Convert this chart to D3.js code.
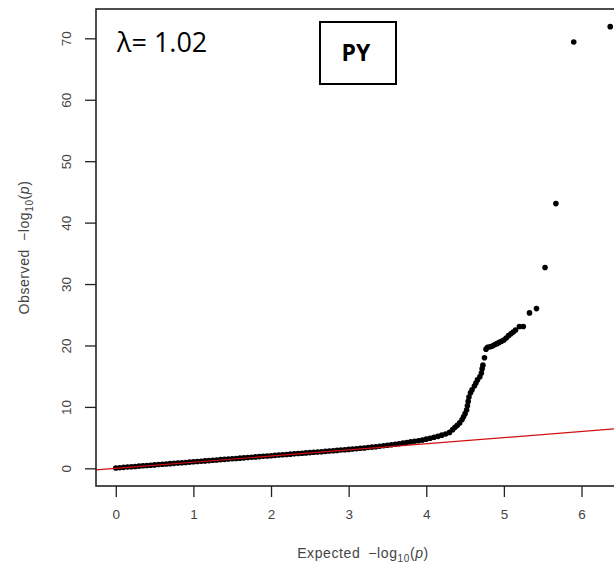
<!DOCTYPE html>
<html>
<head>
<meta charset="utf-8">
<script src="https://cdn.jsdelivr.net/npm/d3@7"></script>
<style>
  body { margin: 0; background: #fff; }
  svg { display: block; }
</style>
</head>
<body>
<svg id="qq" width="614" height="564"></svg>
<script>
// expected -log10(p)
const expected = [
  0.00, 0.05, 0.10, 0.15, 0.20, 0.25, 0.30, 0.35, 0.40, 0.45,
  0.50, 0.55, 0.60, 0.65, 0.70, 0.75, 0.80, 0.85, 0.90, 0.95,
  1.00, 1.05, 1.10, 1.15, 1.20, 1.25, 1.30, 1.35, 1.40, 1.45,
  1.50, 1.55, 1.60, 1.65, 1.70, 1.75, 1.80, 1.85, 1.90, 1.95,
  2.00, 2.05, 2.10, 2.15, 2.20, 2.25, 2.30, 2.35, 2.40, 2.45,
  2.50, 2.55, 2.60, 2.65, 2.70, 2.75, 2.80, 2.85, 2.90, 2.95,
  3.00, 3.05, 3.10, 3.15, 3.20, 3.25, 3.30, 3.35, 3.40, 3.45,
  3.50, 3.55, 3.60, 3.65, 3.70, 3.75, 3.80, 3.85, 3.90, 3.95,
  4.00, 4.05, 4.10, 4.15, 4.20, 4.25, 4.30, 4.34, 4.37, 4.40,
  4.43, 4.46, 4.48, 4.50, 4.52, 4.53, 4.54, 4.55, 4.57, 4.59,
  4.62, 4.64, 4.66, 4.69, 4.71, 4.72, 4.73, 4.75, 4.77, 4.79,
  4.82, 4.85, 4.88, 4.91, 4.94, 4.97, 5.00, 5.03, 5.06, 5.09,
  5.12, 5.15, 5.20, 5.25, 5.33, 5.42, 5.53, 5.67, 5.90, 6.37
];
// observed -log10(p)
const observed = [
  0.05, 0.10, 0.16, 0.21, 0.26, 0.31, 0.36, 0.41, 0.46, 0.51,
  0.56, 0.61, 0.66, 0.71, 0.76, 0.81, 0.86, 0.91, 0.96, 1.01,
  1.06, 1.11, 1.16, 1.21, 1.26, 1.31, 1.36, 1.41, 1.46, 1.51,
  1.56, 1.61, 1.66, 1.71, 1.76, 1.81, 1.86, 1.91, 1.96, 2.01,
  2.06, 2.11, 2.16, 2.21, 2.26, 2.31, 2.36, 2.41, 2.46, 2.51,
  2.56, 2.61, 2.66, 2.71, 2.76, 2.81, 2.86, 2.92, 2.98, 3.03,
  3.08, 3.14, 3.20, 3.26, 3.32, 3.38, 3.45, 3.52, 3.60, 3.67,
  3.75, 3.83, 3.92, 4.00, 4.10, 4.20, 4.30, 4.40, 4.50, 4.60,
  4.75, 4.90, 5.05, 5.20, 5.40, 5.60, 5.85, 6.30, 6.70, 7.00,
  7.40, 7.90, 8.40, 8.90, 9.50, 10.2, 10.9, 11.6, 12.3, 12.8,
  13.4, 13.9, 14.4, 14.9, 15.5, 16.2, 16.8, 18.0, 19.4, 19.7,
  19.8, 19.9, 20.1, 20.3, 20.5, 20.7, 20.9, 21.2, 21.6, 21.9,
  22.2, 22.5, 23.1, 23.1, 25.3, 26.0, 32.7, 43.1, 69.4, 71.9
];
const xTicks = [0, 1, 2, 3, 4, 5, 6];
const yTicks = [0, 10, 20, 30, 40, 50, 60, 70];
const lambdaLabel = "λ= 1.02";
const panelLabel = "PY";

const svg = d3.select("#qq");
const plotL = 96, plotR = 630, plotT = 9, plotB = 486;

// R style 4% padding round the data range
const xMax = d3.max(expected), yMax = d3.max(observed);
const x = d3.scaleLinear()
  .domain([-0.04 * xMax, xMax * 1.04])
  .range([plotL, plotR]);
const y = d3.scaleLinear()
  .domain([-0.04 * yMax, yMax * 1.04])
  .range([plotB, plotT]);

svg.append("defs").append("clipPath").attr("id", "plotClip")
  .append("rect")
  .attr("x", plotL).attr("y", plotT)
  .attr("width", plotR - plotL).attr("height", plotB - plotT);

const pts = expected.map((e, i) => ({ e: e, o: observed[i] }));

svg.append("g")
  .selectAll("circle")
  .data(pts)
  .join("circle")
  .attr("cx", (d) => x(d.e))
  .attr("cy", (d) => y(d.o))
  .attr("r", 2.8)
  .attr("fill", "#000");

// y = x reference line
const lineDom = x.domain();
svg.append("line")
  .attr("clip-path", "url(#plotClip)")
  .attr("x1", x(lineDom[0])).attr("y1", y(lineDom[0]))
  .attr("x2", x(lineDom[1])).attr("y2", y(lineDom[1]))
  .attr("stroke", "#d01010")
  .attr("stroke-width", 1.2);

// axes
const xAxis = svg.append("g")
  .attr("transform", `translate(0,${plotB})`)
  .call(d3.axisBottom(x).tickValues(xTicks).tickSize(11).tickPadding(12).tickFormat(d3.format("d")));
const yAxis = svg.append("g")
  .attr("transform", `translate(${plotL},0)`)
  .call(d3.axisLeft(y).tickValues(yTicks).tickSize(11).tickPadding(0).tickFormat(d3.format("d")));

[xAxis, yAxis].forEach((g) => {
  g.select(".domain").remove();
  g.selectAll(".tick line").attr("stroke", "#222").attr("stroke-width", 1.3);
  g.selectAll(".tick text")
    .attr("fill", "#444")
    .style("font-family", "'Liberation Sans', Arial, sans-serif")
    .style("font-size", "13.5px");
});

yAxis.selectAll(".tick text")
  .attr("x", null).attr("dy", null)
  .attr("text-anchor", "middle")
  .attr("transform", "translate(-30,0) rotate(-90)")
  .attr("dy", "0.35em");

// box
svg.append("rect")
  .attr("x", plotL).attr("y", plotT)
  .attr("width", plotR - plotL).attr("height", plotB - plotT)
  .attr("fill", "none")
  .attr("stroke", "#222")
  .attr("stroke-width", 1.6);

// axis titles, built as "Label  -log10(p)"
const titleFont = "'Liberation Sans', Arial, sans-serif";
function axisTitle(sel, label) {
  sel.attr("text-anchor", "middle")
    .attr("fill", "#444")
    .style("font-family", titleFont)
    .style("font-size", "14px")
    .style("letter-spacing", "0.6px");
  sel.append("tspan").text(label);
  sel.append("tspan").attr("dx", 8).text("\u2212log");
  sel.append("tspan").attr("dy", 4).style("font-size", "10px").text("10");
  sel.append("tspan").attr("dy", -4).text("(");
  sel.append("tspan").style("font-style", "italic").text("p");
  sel.append("tspan").text(")");
}

axisTitle(svg.append("text").attr("x", (plotL + plotR) / 2).attr("y", 558), "Expected");
axisTitle(
  svg.append("text").attr("transform", `translate(29,${(plotT + plotB) / 2}) rotate(-90)`),
  "Observed"
);

// annotations
svg.append("text")
  .attr("x", 117).attr("y", 52)
  .attr("fill", "#000")
  .style("font-family", "'Open Sans', 'Liberation Sans', sans-serif")
  .style("font-size", "27px")
  .text(lambdaLabel);

svg.append("rect")
  .attr("x", 320).attr("y", 22)
  .attr("width", 76).attr("height", 62)
  .attr("fill", "#fff")
  .attr("stroke", "#000")
  .attr("stroke-width", 2);
svg.append("text")
  .attr("x", 356).attr("y", 61)
  .attr("text-anchor", "middle")
  .attr("fill", "#000")
  .style("font-family", "'Open Sans', 'Liberation Sans', sans-serif")
  .style("font-weight", "bold")
  .style("font-size", "23px")
  .text(panelLabel);
</script>
</body>
</html>
